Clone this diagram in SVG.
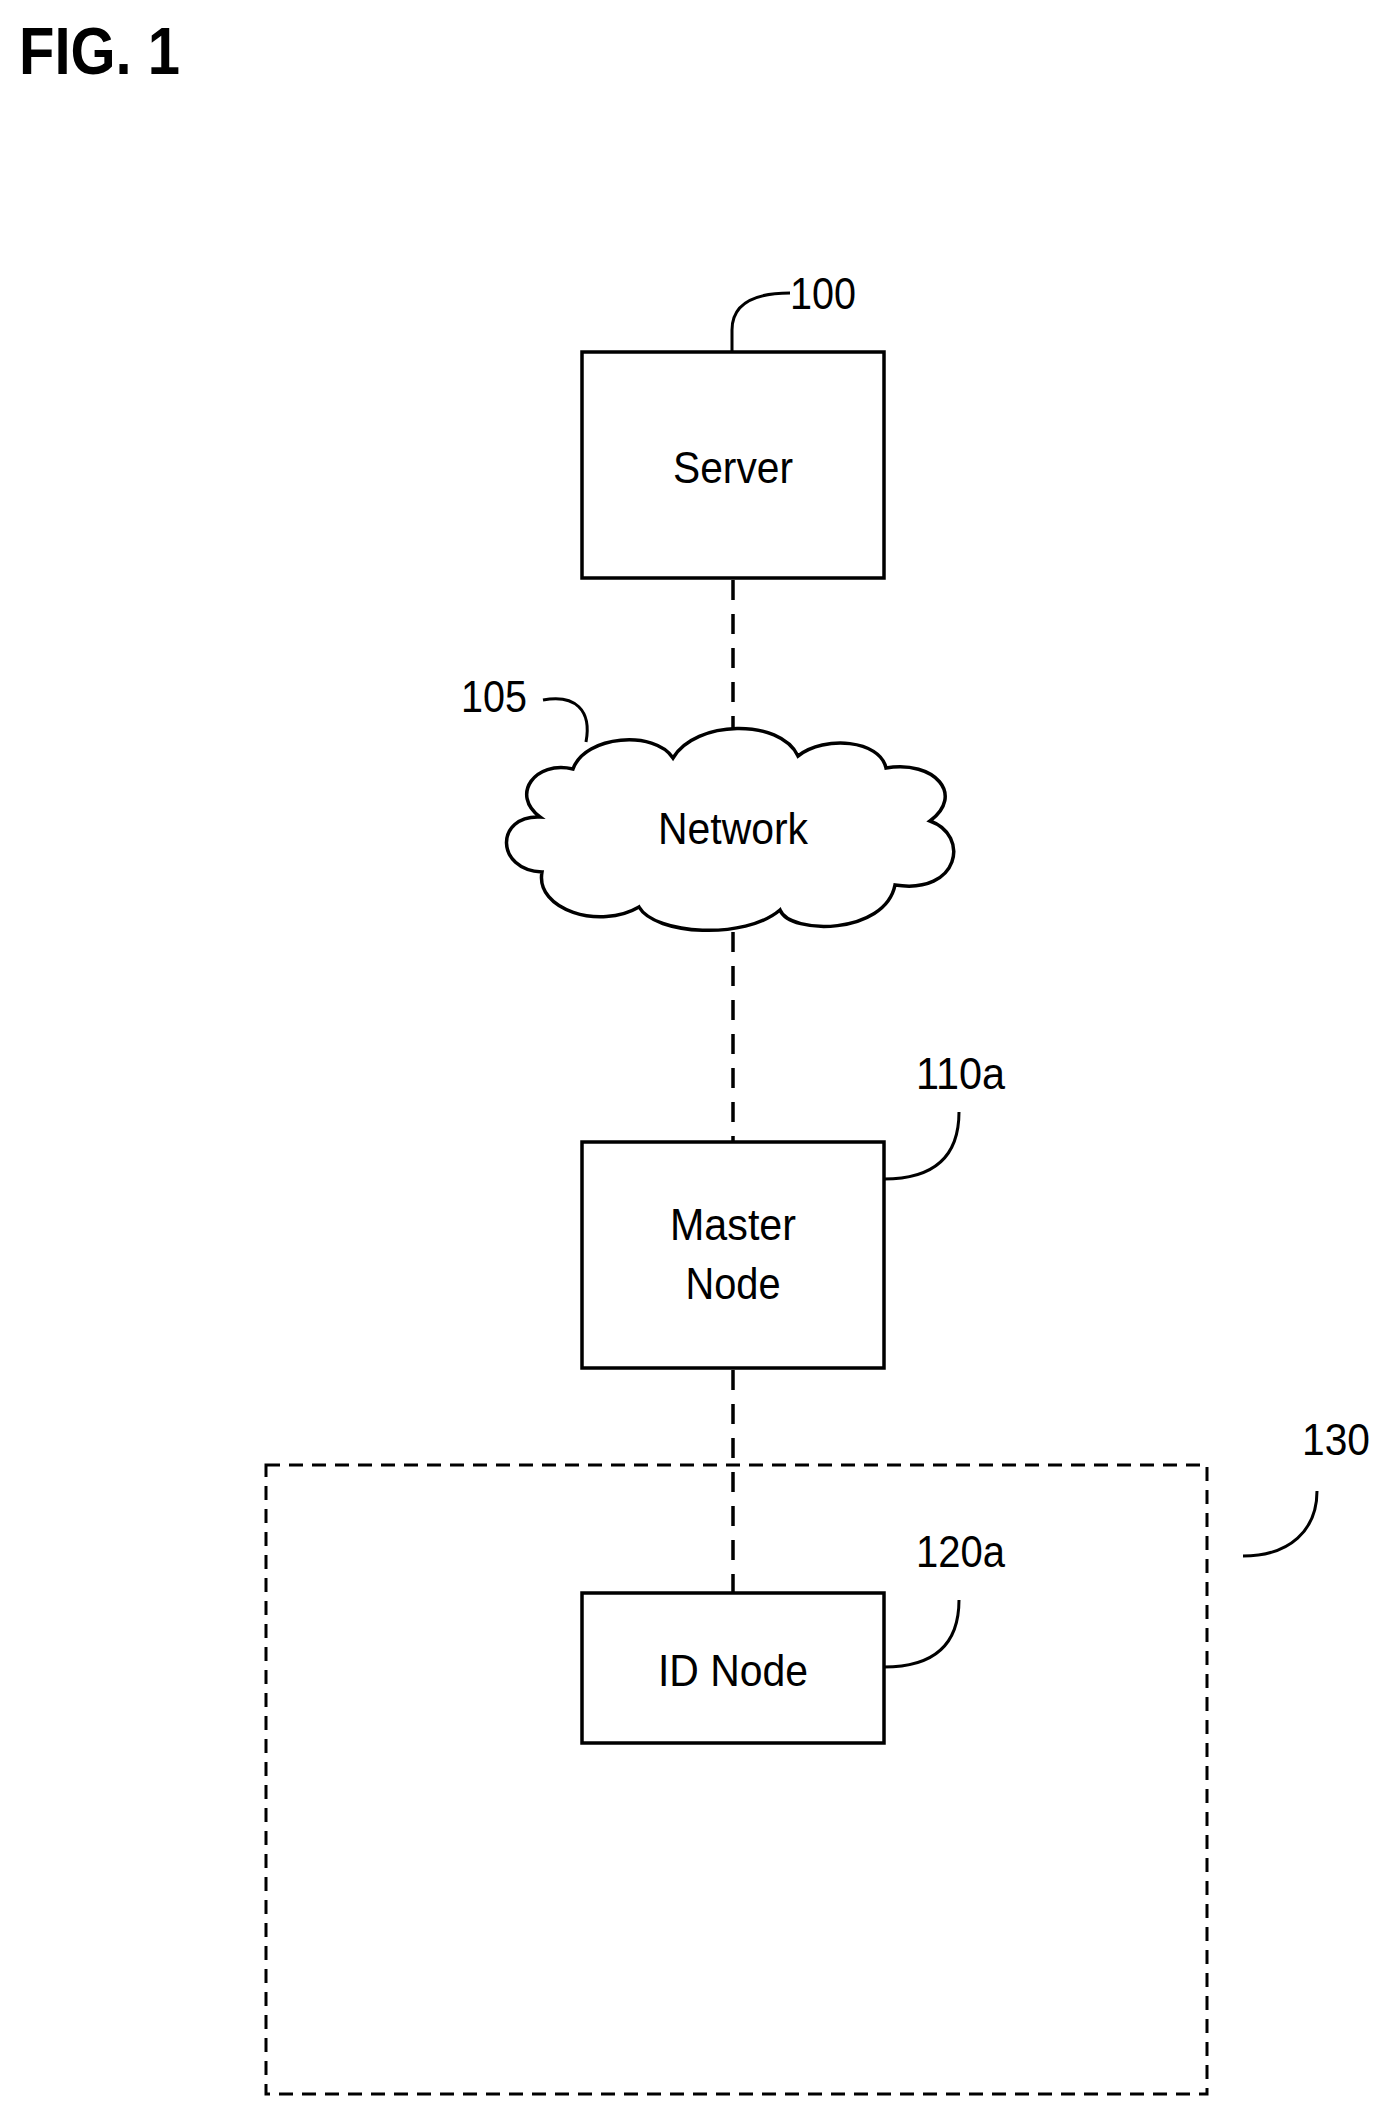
<svg xmlns="http://www.w3.org/2000/svg" width="1383" height="2112" viewBox="0 0 1383 2112">
<style>
.t{font-family:"Liberation Sans",Arial,sans-serif;font-size:44px;fill:#000}
.box{fill:#fff;stroke:#000;stroke-width:3.5}
.ld{fill:none;stroke:#000;stroke-width:3}
.dash{fill:none;stroke:#000;stroke-width:3.5;stroke-dasharray:20 14}
</style>
<rect width="1383" height="2112" fill="#fff"/>
<text x="19" y="74" font-family="Liberation Sans,Arial,sans-serif" font-weight="bold" font-size="66" textLength="161" lengthAdjust="spacingAndGlyphs">FIG. 1</text>
<g id="connectors">
<line class="dash" x1="733" y1="580" x2="733" y2="729"/>
<line class="dash" x1="733" y1="932" x2="733" y2="1142"/>
<line class="dash" x1="733" y1="1370" x2="733" y2="1593"/>
</g>
<g id="region130">
<rect x="266" y="1465" width="941" height="629" fill="none" stroke="#000" stroke-width="3" stroke-dasharray="14 9"/>
<text class="t" x="1302" y="1455" textLength="68" lengthAdjust="spacingAndGlyphs">130</text>
<path class="ld" d="M1243,1556 C1290,1556 1317,1530 1317,1491"/>
</g>
<g id="server">
<rect class="box" x="582" y="352" width="302" height="226"/>
<text class="t" x="733" y="483" text-anchor="middle" textLength="120" lengthAdjust="spacingAndGlyphs">Server</text>
<text class="t" x="790" y="309" textLength="66" lengthAdjust="spacingAndGlyphs">100</text>
<path class="ld" d="M732,352 L732,330 C732,305 752,293 790,293"/>
</g>
<g id="network">
<path class="box" d="M573,769 C585,735 655,730 673,758 C695,720 780,718 798,756 C825,735 880,740 886,768 C935,760 965,795 930,821 C970,835 960,895 895,885 C885,935 790,935 780,910 C745,940 655,935 639,907 C600,930 535,910 542,872 C495,870 495,815 540,817 C510,795 535,760 573,769 Z"/>
<text class="t" x="733" y="844" text-anchor="middle" textLength="150" lengthAdjust="spacingAndGlyphs">Network</text>
<text class="t" x="461" y="712" textLength="66" lengthAdjust="spacingAndGlyphs">105</text>
<path class="ld" d="M543,700 C575,694 592,710 586,742"/>
</g>
<g id="master">
<rect class="box" x="582" y="1142" width="302" height="226"/>
<text class="t" x="733" y="1240" text-anchor="middle" textLength="126" lengthAdjust="spacingAndGlyphs">Master</text>
<text class="t" x="733" y="1299" text-anchor="middle" textLength="95" lengthAdjust="spacingAndGlyphs">Node</text>
<text class="t" x="916" y="1089" textLength="89" lengthAdjust="spacingAndGlyphs">110a</text>
<path class="ld" d="M884,1179 C930,1179 959,1160 959,1112"/>
</g>
<g id="idnode">
<rect class="box" x="582" y="1593" width="302" height="150"/>
<text class="t" x="733" y="1686" text-anchor="middle" textLength="150" lengthAdjust="spacingAndGlyphs">ID Node</text>
<text class="t" x="916" y="1567" textLength="89" lengthAdjust="spacingAndGlyphs">120a</text>
<path class="ld" d="M884,1667 C930,1667 959,1648 959,1600"/>
</g>
</svg>
